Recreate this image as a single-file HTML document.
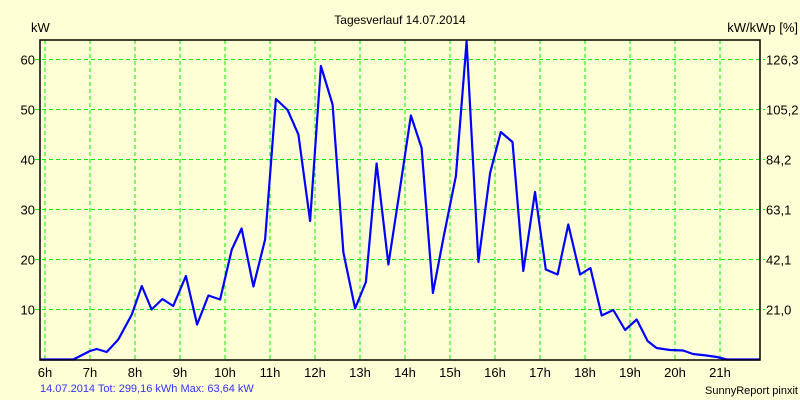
<!DOCTYPE html>
<html><head><meta charset="utf-8"><style>
body{margin:0;background:#ffffd5;}
svg{display:block;font-family:"Liberation Sans",sans-serif;}
</style></head><body>
<svg id="chart" width="800" height="400">
<rect x="0" y="0" width="800" height="400" fill="#ffffd5"/>
<text x="400" y="24" text-anchor="middle" font-size="12" fill="#000">Tagesverlauf 14.07.2014</text>
<text x="31" y="32" font-size="13" fill="#000">kW</text>
<text x="798" y="32" text-anchor="end" font-size="13" fill="#000">kW/kWp [%]</text>
<g id="grid"></g>
<g id="ticks"></g>
<polyline id="series" fill="none" stroke="#0000ff" stroke-width="2.2" stroke-linejoin="round"/>
<rect x="40" y="40" width="720" height="320" fill="none" stroke="#000" stroke-width="1.5"/>
<text x="40" y="392" font-size="11" fill="#3333ff">14.07.2014 Tot: 299,16 kWh Max: 63,64 kW</text>
<text x="798" y="394" text-anchor="end" font-size="11" fill="#000">SunnyReport pinxit</text>
</svg>
<script>
const hours=[5.89,6.63,7.0,7.15,7.37,7.63,7.93,8.15,8.37,8.61,8.85,9.13,9.38,9.63,9.89,10.15,10.37,10.63,10.89,11.13,11.39,11.63,11.89,12.13,12.39,12.63,12.89,13.13,13.37,13.63,13.87,14.13,14.37,14.62,14.87,15.13,15.37,15.63,15.89,16.13,16.39,16.63,16.89,17.13,17.39,17.63,17.89,18.12,18.37,18.63,18.89,19.15,19.39,19.59,19.89,20.18,20.4,20.7,20.93,21.15,21.89];
const kw=[0,0,1.7,2.1,1.5,4,9,14.7,10,12.1,10.7,16.7,7,12.8,12,22,26.2,14.6,24,52.1,49.9,45,27.7,58.7,51,21.4,10.2,15.5,39.2,19,33,48.8,42.3,13.3,25,36.7,63.64,19.5,37.3,45.5,43.5,17.7,33.5,18,17,27,17,18.3,8.8,9.9,5.9,8,3.7,2.3,1.9,1.8,1.1,0.8,0.5,0,0];
const yTicks=[10,20,30,40,50,60];
const rightLabels=["21,0","42,1","63,1","84,2","105,2","126,3"];
const xTicks=[6,7,8,9,10,11,12,13,14,15,16,17,18,19,20,21];
const NS="http://www.w3.org/2000/svg";
function xs(h){return 45+(h-6)*45;}
function ys(v){return 359.5-v*5.0;}
const grid=document.getElementById('grid'),ticks=document.getElementById('ticks');
function mk(tag,attrs,parent,txt){const e=document.createElementNS(NS,tag);for(const k in attrs)e.setAttribute(k,attrs[k]);if(txt!==undefined)e.textContent=txt;parent.appendChild(e);return e;}
xTicks.forEach(h=>{
 const x=Math.max(40,xs(h));
 const l=mk('line',{x1:x,x2:x,y1:40,y2:360,stroke:'#00ee00','stroke-width':1,'stroke-dasharray':'4,3'},grid);
 
 
 const t=mk('text',{x:x,y:377,'text-anchor':'middle','font-size':13,fill:'#000'},ticks,h+'h');
 
 
});
yTicks.forEach((v,i)=>{
 const y=ys(v);
 const l=mk('line',{x1:35,x2:765,y1:y,y2:y,stroke:'#00ee00','stroke-width':1,'stroke-dasharray':'4,3'},grid);
 
 
 const t=mk('text',{x:35,y:y+5,'text-anchor':'end','font-size':13,fill:'#000'},ticks,String(v));
 
 
 const r=mk('text',{x:766,y:y+5,'font-size':13,fill:'#000'},ticks,rightLabels[i]);
 
 
});
document.getElementById('series').setAttribute('points',hours.map((h,i)=>Math.max(40,Math.min(760,xs(h))).toFixed(1)+','+ys(kw[i]).toFixed(1)).join(' '));
</script>
</body></html>
